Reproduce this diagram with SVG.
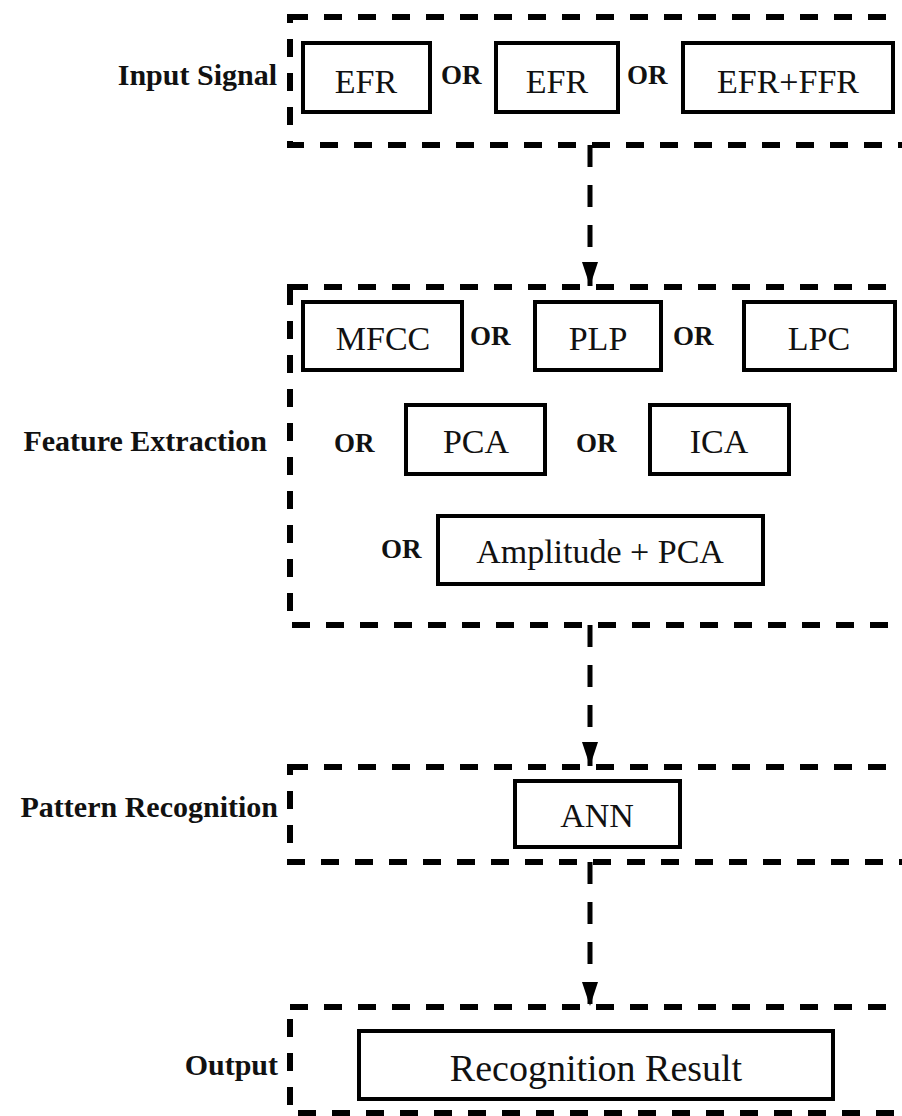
<svg xmlns="http://www.w3.org/2000/svg" width="902" height="1116" viewBox="0 0 902 1116">
<defs>
<style>
.stage{fill:none;stroke:#000;stroke-width:6;stroke-dasharray:18 16}
.box{fill:#fff;stroke:#000;stroke-width:4}
text{font-family:'Liberation Serif','Times New Roman',Times,'DejaVu Serif',serif;fill:#111}
.t{font-size:34px;text-anchor:middle}
.or{font-size:27px;font-weight:bold}
.lbl{font-size:30px;font-weight:bold;text-anchor:end}
.conn{fill:none;stroke:#000;stroke-width:5;stroke-dasharray:22 18}
</style>
<marker id="arr" markerWidth="24" markerHeight="16" refX="24" refY="8" orient="auto" markerUnits="userSpaceOnUse">
<path d="M0,0 L24,8 L0,16 Z" fill="#000"/>
</marker>
</defs>
<rect width="902" height="1116" fill="#fff"/>

<g id="connectors">
<line class="conn" x1="590" y1="145" x2="590" y2="286" marker-end="url(#arr)"/>
<line class="conn" x1="590" y1="625" x2="590" y2="766" marker-end="url(#arr)"/>
<line class="conn" x1="590" y1="862" x2="590" y2="1006" marker-end="url(#arr)"/>
</g>

<g id="stage-input">
<rect class="stage" x="290" y="17" width="640" height="128"/>
<text class="lbl" x="277" y="85">Input Signal</text>
</g>
<g id="node-efr1"><rect class="box" x="303" y="43" width="127" height="69"/><text class="t" x="366" y="93">EFR</text></g>
<g id="or-1"><text class="or" x="441" y="84">OR</text></g>
<g id="node-efr2"><rect class="box" x="496" y="43" width="122" height="69"/><text class="t" x="557" y="93">EFR</text></g>
<g id="or-2"><text class="or" x="627" y="84">OR</text></g>
<g id="node-efrffr"><rect class="box" x="683" y="43" width="210" height="69"/><text class="t" x="788" y="93">EFR+FFR</text></g>

<g id="stage-feature">
<rect class="stage" x="290" y="287" width="640" height="338"/>
<text class="lbl" x="267" y="451">Feature Extraction</text>
</g>
<g id="node-mfcc"><rect class="box" x="303" y="302" width="159" height="68"/><text class="t" x="383" y="350">MFCC</text></g>
<g id="or-3"><text class="or" x="470" y="345">OR</text></g>
<g id="node-plp"><rect class="box" x="535" y="302" width="126" height="68"/><text class="t" x="598" y="350">PLP</text></g>
<g id="or-4"><text class="or" x="673" y="345">OR</text></g>
<g id="node-lpc"><rect class="box" x="744" y="302" width="151" height="68"/><text class="t" x="819" y="350">LPC</text></g>
<g id="or-5"><text class="or" x="334" y="452">OR</text></g>
<g id="node-pca"><rect class="box" x="406" y="405" width="139" height="69"/><text class="t" x="476" y="453">PCA</text></g>
<g id="or-6"><text class="or" x="576" y="452">OR</text></g>
<g id="node-ica"><rect class="box" x="650" y="405" width="139" height="69"/><text class="t" x="719" y="453">ICA</text></g>
<g id="or-7"><text class="or" x="381" y="558">OR</text></g>
<g id="node-amp"><rect class="box" x="438" y="516" width="325" height="68"/><text class="t" x="600" y="563">Amplitude + PCA</text></g>

<g id="stage-pattern">
<rect class="stage" x="290" y="767" width="640" height="95"/>
<text class="lbl" x="278" y="817">Pattern Recognition</text>
</g>
<g id="node-ann"><rect class="box" x="515" y="781" width="165" height="66"/><text class="t" x="597" y="827">ANN</text></g>

<g id="stage-output">
<rect class="stage" x="290" y="1007" width="640" height="106"/>
<text class="lbl" x="278" y="1075">Output</text>
</g>
<g id="node-result"><rect class="box" x="359" y="1031" width="474" height="68"/><text class="t" x="596" y="1081" style="font-size:38px">Recognition Result</text></g>
</svg>
